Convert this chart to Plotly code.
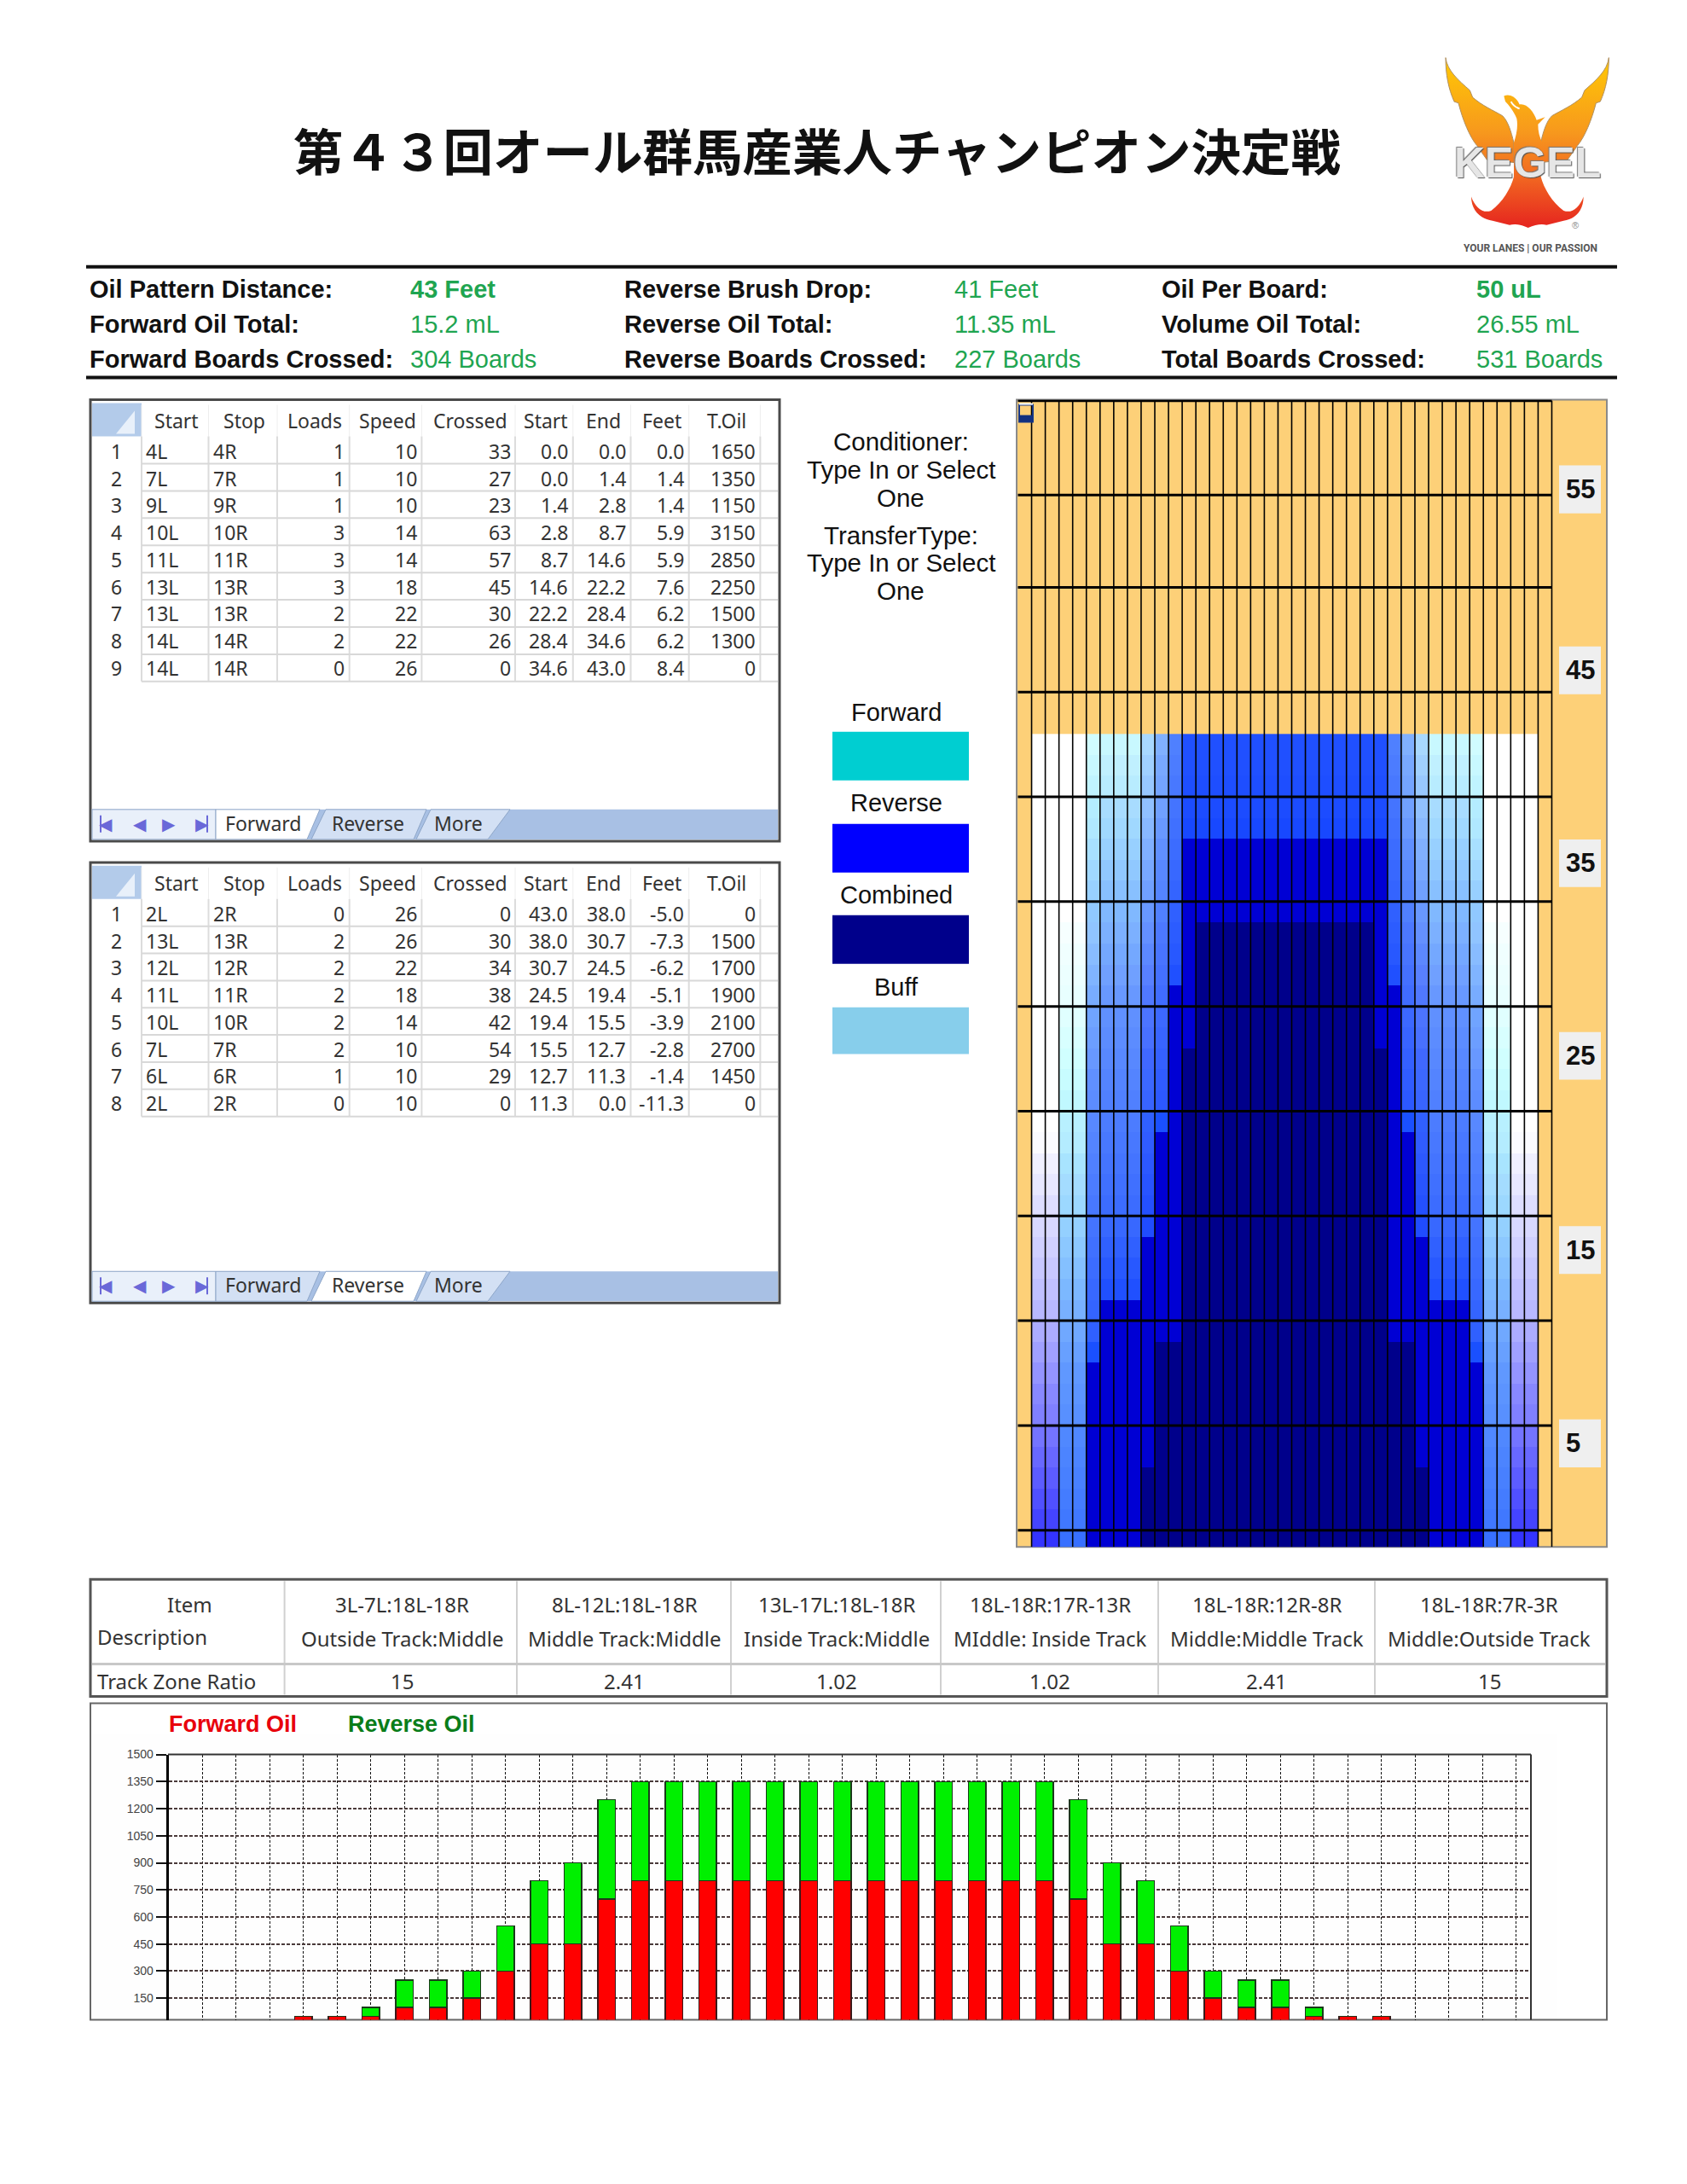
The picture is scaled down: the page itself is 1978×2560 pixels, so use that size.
import base64
import numpy as np
import plotly.graph_objects as go

W, H = 1978, 2560

# ---------- data ----------
TITLE = "第４３回オール群馬産業人チャンピオン決定戦"
summary_rows = [
    [("Oil Pattern Distance:", "43 Feet", True), ("Reverse Brush Drop:", "41 Feet", False), ("Oil Per Board:", "50 uL", True)],
    [("Forward Oil Total:", "15.2 mL", False), ("Reverse Oil Total:", "11.35 mL", False), ("Volume Oil Total:", "26.55 mL", False)],
    [("Forward Boards Crossed:", "304 Boards", False), ("Reverse Boards Crossed:", "227 Boards", False), ("Total Boards Crossed:", "531 Boards", False)],
]
table_headers = ["Start", "Stop", "Loads", "Speed", "Crossed", "Start", "End", "Feet", "T.Oil"]
fw_start = ["4L", "7L", "9L", "10L", "11L", "13L", "13L", "14L", "14L"]
fw_stop = ["4R", "7R", "9R", "10R", "11R", "13R", "13R", "14R", "14R"]
fw_loads = [1, 1, 1, 3, 3, 3, 2, 2, 0]
fw_speed = [10, 10, 10, 14, 14, 18, 22, 22, 26]
fw_crossed = [33, 27, 23, 63, 57, 45, 30, 26, 0]
fw_from = ["0.0", "0.0", "1.4", "2.8", "8.7", "14.6", "22.2", "28.4", "34.6"]
fw_end = ["0.0", "1.4", "2.8", "8.7", "14.6", "22.2", "28.4", "34.6", "43.0"]
fw_feet = ["0.0", "1.4", "1.4", "5.9", "5.9", "7.6", "6.2", "6.2", "8.4"]
fw_oil = [1650, 1350, 1150, 3150, 2850, 2250, 1500, 1300, 0]

rv_start = ["2L", "13L", "12L", "11L", "10L", "7L", "6L", "2L"]
rv_stop = ["2R", "13R", "12R", "11R", "10R", "7R", "6R", "2R"]
rv_loads = [0, 2, 2, 2, 2, 2, 1, 0]
rv_speed = [26, 26, 22, 18, 14, 10, 10, 10]
rv_crossed = [0, 30, 34, 38, 42, 54, 29, 0]
rv_from = ["43.0", "38.0", "30.7", "24.5", "19.4", "15.5", "12.7", "11.3"]
rv_end = ["38.0", "30.7", "24.5", "19.4", "15.5", "12.7", "11.3", "0.0"]
rv_feet = ["-5.0", "-7.3", "-6.2", "-5.1", "-3.9", "-2.8", "-1.4", "-11.3"]
rv_oil = [0, 1500, 1700, 1900, 2100, 2700, 1450, 0]

track_head = ["3L-7L:18L-18R", "8L-12L:18L-18R", "13L-17L:18L-18R", "18L-18R:17R-13R", "18L-18R:12R-8R", "18L-18R:7R-3R"]
track_desc = ["Outside Track:Middle", "Middle Track:Middle", "Inside Track:Middle", "MIddle: Inside Track", "Middle:Middle Track", "Middle:Outside Track"]
track_ratio = ["15", "2.41", "1.02", "1.02", "2.41", "15"]

boards = list(range(4, 37))
forward_oil = [50, 50, 50, 100, 100, 150, 300, 450, 450, 700, 800, 800, 800, 800, 800, 800, 800, 800, 800, 800, 800, 800, 800,
               700, 450, 450, 300, 150, 100, 100, 50, 50, 50]
reverse_oil = [0, 0, 50, 150, 150, 150, 250, 350, 450, 550, 550, 550, 550, 550, 550, 550, 550, 550, 550, 550, 550, 550, 550,
               550, 450, 350, 250, 150, 150, 150, 50, 0, 0]
bar_ticks = [150, 300, 450, 600, 750, 900, 1050, 1200, 1350, 1500]

# Oil-graph colours, top row of the pattern first, for the left half of the lane (mirrored on the right)
c2_3 = ["ffffff"] * 19 + ["fbfbff", "f0f0ff", "e8e8ff", "dedeff", "d8d8ff", "d0d0ff", "c8c8ff", "c0c0ff", "b8b8ff", "acacff", "a0a0ff",
                          "9494ff", "8888ff", "8080ff", "7474ff", "6868ff", "5c5cff", "5050ff", "4444ff", "3434ff"]
c4_5 = ["ffffff"] * 9 + ["f6ffff", "f0ffff", "ecffff", "e8ffff", "e0ffff", "d8ffff", "d0ffff", "c8fcff", "c0f8ff", "b8f0ff", "b4ecff",
                         "a8e4ff", "a4dcff", "9cd8ff", "94d0ff", "8cc8ff", "84c0ff", "7cb8ff", "78b0ff", "70a8ff", "68a0ff",
                         "6098ff", "5c94ff", "5890ff", "5088ff", "4c84ff", "4880ff", "447cff", "4078ff", "3870ff"]
c6 = ["d0fcff", "c8f8ff", "c0f4ff", "b4ecff", "b0e8ff", "a8e0ff", "a0d8ff", "98d0ff", "90c8ff", "90c4ff", "88bcff", "80b4ff", "78acff",
      "70a4ff", "6c9eff", "6898ff", "6090ff", "5c8cff", "5888ff", "5484ff", "5080ff", "4c7cff", "4878ff", "4474ff", "4070ff", "3c6cff",
      "3868ff", "3464ff", "3060ff", "1a50ff"] + ["0000d4"] * 9
c7_9 = ["c8f8ff", "c0f0ff", "b8ecff", "a8dcff", "a0d8ff", "98d0ff", "90c8ff", "88c0ff", "80b8ff", "7cb0ff", "74a8ff", "70a0ff", "6898ff",
        "6090ff", "5c8cff", "5888ff", "5484ff", "5080ff", "4c7cff", "4878ff", "4474ff", "4070ff", "3c6cff", "3868ff", "3060ff", "2858ff",
        "2050ff"] + ["0000d4"] * 12
c10 = ["a8d8ff", "a0d0ff", "98c8ff", "90c0ff", "88b8ff", "80b0ff", "78a8ff", "70a0ff", "6898ff", "6490ff", "5c88ff", "5880ff", "5078ff",
       "4c74ff", "4870ff", "4068ff", "3c68ff", "3864ff", "3060ff", "305cff", "2c58ff", "2854ff", "2450ff", "204cff"] + ["0000d4"] * 11 + ["00008b"] * 4
c11 = ["80b0ff", "78a8ff", "74a4ff", "70a0ff", "6898ff", "6090ff", "5888ff", "5484ff", "5080ff", "4c78ff", "4874ff", "4470ff", "406cff",
       "3c68ff", "3864ff", "3460ff", "305cff", "2c58ff", "1a50ff"] + ["0000d4"] * 10 + ["00008b"] * 10
c12 = ["4f80ff", "4c7cff", "4878ff", "4474ff", "4070ff", "3c6cff", "3868ff", "3464ff", "3060ff", "2c5cff", "2858ff", "2050ff"] + ["0000d4"] * 17 + ["00008b"] * 10
c13 = ["2050ff", "2050ff", "1e4eff", "1c4cff", "1848ff"] + ["0000d4"] * 10 + ["00008b"] * 24
c14_20 = ["2050ff", "2050ff", "1e4eff", "1c4cff", "1848ff"] + ["0000d4"] * 4 + ["00008b"] * 30
oil_columns = [c2_3, c2_3, c4_5, c4_5, c6, c7_9, c7_9, c7_9, c10, c11, c12, c13] + [c14_20] * 7
board_numbers = list(range(2, 39))
row_levels = [38.5 - i for i in range(39)]
grid_cols = [i + 0.5 for i in range(1, 40)]
grid_rows = [1, 6, 11, 16, 21, 26, 31, 36, 41, 46, 50.4, 54.9]
lane_labels = ["5", "15", "25", "35", "45", "55"]
legend_names = ["Forward", "Reverse", "Combined", "Buff"]
legend_colors = ["#00ced1", "#0000ff", "#00008b", "#87ceeb"]

# ---------- helpers ----------
SANS = "Liberation Sans"
UI = "Noto Sans"
annots, shapes = [], []
WARP_Y = [0, 470, 1000, 1530, 1812, 1850, 2055, 2560]
WARP_D = [7, 6, 4, 3, 1, 1, 0, 0]
fx = lambda x: x / W
fy = lambda y: float(1 - (y - np.interp(y, WARP_Y, WARP_D)) / H)


def txt(x, y, s, size, color="#111", bold=False, anchor="left", font=SANS, **kw):
    f = dict(size=size, color=color, family=font, weight=700 if bold else 400)
    f.update(kw)
    annots.append(dict(x=fx(x), y=fy(y), xref="paper", yref="paper", text=s, showarrow=False, xanchor=anchor,
                       yanchor="middle", font=f, borderpad=0, borderwidth=0))


def rect(x0, y0, x1, y1, fill=None, line=None, lw=1, layer="above"):
    shapes.append(dict(type="rect", xref="paper", yref="paper", x0=fx(x0), x1=fx(x1), y0=fy(y0), y1=fy(y1),
                       fillcolor=fill or "rgba(0,0,0,0)", line=dict(color=line or "rgba(0,0,0,0)", width=lw if line else 0), layer=layer))


def hline(x0, x1, y, color="#000", lw=3):
    shapes.append(dict(type="line", xref="paper", yref="paper", x0=fx(x0), x1=fx(x1), y0=fy(y), y1=fy(y), line=dict(color=color, width=lw)))


def vline(x, y0, y1, color="#000", lw=3):
    shapes.append(dict(type="line", xref="paper", yref="paper", x0=fx(x), x1=fx(x), y0=fy(y0), y1=fy(y1), line=dict(color=color, width=lw)))


def poly(pts, fill, line=None):
    path = "M" + " L".join(f"{fx(x):.5f},{fy(y):.5f}" for x, y in pts) + " Z"
    shapes.append(dict(type="path", xref="paper", yref="paper", path=path, fillcolor=fill,
                       line=dict(color=line or "rgba(0,0,0,0)", width=1 if line else 0), layer="above"))


fig = go.Figure()

# ---------- title & logo ----------
txt(958, 174, TITLE, 58.5, "#111", True, "center", "Noto Sans CJK JP")
wing = "M105,50 C110,95 150,130 190,165 L200,190 C235,220 270,235 305,255 C325,275 335,310 345,350 L345,420 L250,410 L215,360 C190,330 165,270 150,210 L135,205 C115,160 105,110 105,50 Z"
body = ("M310,185 C330,175 355,190 365,215 C390,210 415,240 425,270 L455,260 L430,285 C430,310 435,330 445,350 L440,470 "
        "C450,510 480,560 520,590 C550,600 575,580 590,540 C590,590 560,620 520,625 L460,640 C440,635 420,640 395,650 "
        "C370,640 350,635 330,640 L270,625 C230,620 195,590 195,540 C210,580 235,600 265,590 C305,560 335,510 345,470 L345,350 "
        "C355,320 360,290 355,265 C345,240 325,215 315,205 Z")
svg = f'''<svg xmlns="http://www.w3.org/2000/svg" width="750" height="780" viewBox="0 0 750 780">
<defs><linearGradient id="g" gradientUnits="userSpaceOnUse" x1="0" y1="50" x2="0" y2="640">
<stop offset="0" stop-color="#ffc905"/><stop offset="0.45" stop-color="#f7981d"/><stop offset="0.7" stop-color="#f26a21"/><stop offset="1" stop-color="#e6281f"/></linearGradient></defs>
<g fill="url(#g)" stroke="#b09060" stroke-width="3"><path d="{wing}"/><path d="{wing}" transform="translate(784,0) scale(-1,1)"/><path d="{body}" stroke="none"/></g>
<path d="M335,205 C340,215 350,225 365,230" fill="none" stroke="#fff" stroke-width="6"/>
</svg>'''
logo_uri = "data:image/svg+xml;base64," + base64.b64encode(svg.encode()).decode()
images = [dict(source=logo_uri, xref="paper", yref="paper", x=fx(1660), y=fy(50), sizex=250 / W, sizey=260 / H,
               xanchor="left", yanchor="top", sizing="stretch", layer="above")]
txt(1791, 190, "KEGEL", 50, "#e6e6e6", True, "center", SANS, shadow="1px 1px 1px #555, -1px -1px 1px #777")
txt(1847, 263, "®", 11, "#888", False, "center")
txt(1794, 290, "YOUR LANES | OUR PASSION", 12, "#555", True, "center", "Roboto")

# ---------- summary block ----------
hline(101, 1896, 312, "#111", 4)
hline(101, 1896, 442, "#111", 4)
label_x = [105, 732, 1362]
value_x = [481, 1119, 1731]
row_y = [338, 379, 420]
for ry, row in zip(row_y, summary_rows):
    for lx, vx, (lab, val, strong) in zip(label_x, value_x, row):
        txt(lx, ry, lab, 29, "#111", True)
        txt(vx, ry, val, 29, "#1fa551", strong)

# ---------- setup tables ----------
col_edges = [166, 244.5, 325, 409.7, 494.4, 604, 671.8, 739.5, 807.7, 891.4]
table_sets = [
    (0, 1, [fw_start, fw_stop, fw_loads, fw_speed, fw_crossed, fw_from, fw_end, fw_feet, fw_oil]),
    (542, 2, [rv_start, rv_stop, rv_loads, rv_speed, rv_crossed, rv_from, rv_end, rv_feet, rv_oil]),
]
for off, active, cols in table_sets:
    n = len(cols[0])
    rect(106, 468 + off, 914, 985 + off, "#ffffff", "#4a4a4a", 3, "below")
    rect(108, 472 + off, 166, 511 + off, "#b3cbea", None, 0, "below")
    poly([(158, 481 + off), (158, 508 + off), (136, 508 + off)], "#e8f0fa")
    bottom = 511 + off + 31.9 * n
    for e in col_edges:
        vline(e, 474 + off, 511 + off, "#eeeeee", 1)
        vline(e, 511 + off, bottom, "#dcdcdc", 2)
    for i in range(n):
        hline(166, 912, 511 + off + 31.9 * (i + 1), "#d8d8d8", 2)
        cy = 528.2 + off + 31.76 * i
        txt(136, cy, str(i + 1), 23, "#333", False, "center", UI)
        for j, col in enumerate(cols):
            val = str(col[i])
            if j < 2:
                txt(col_edges[j] + 5, cy, val, 23, "#333", False, "left", UI)
            else:
                txt(col_edges[j + 1] - 5.5, cy, val, 23, "#333", False, "right", UI)
    for j, head in enumerate(table_headers):
        txt((col_edges[j] + col_edges[j + 1]) / 2 + 2, 492.5 + off, head, 23, "#333", False, "center", UI)
    # tab strip
    rect(108, 948 + off, 912, 983 + off, "#a8c0e4", None, 0)
    rect(108, 948 + off, 253, 983 + off, "#e9f0fa", "#8ea6c8", 1)
    fwd_fill = "#ffffff" if active == 1 else "#d3e0f4"
    rev_fill = "#ffffff" if active == 2 else "#d3e0f4"
    poly([(488, 983 + off), (505, 948 + off), (598, 948 + off), (572, 983 + off)], "#d3e0f4", "#8ea6c8")
    poly([(365, 983 + off), (382, 948 + off), (500, 948 + off), (485, 983 + off)], rev_fill, "#8ea6c8")
    poly([(253, 948 + off), (253, 983 + off), (360, 983 + off), (375, 948 + off)], fwd_fill, "#8ea6c8")
    for gx, g in zip([124, 163.5, 198, 236.6], ["◀", "◀", "▶", "▶"]):
        txt(gx, 965 + off, g, 20, "#6a68d8", False, "center", "DejaVu Sans")
    vline(118, 955 + off, 975 + off, "#6a68d8", 2)
    vline(243, 955 + off, 975 + off, "#6a68d8", 2)
    for tx, tab in zip([309, 431, 537], ["Forward", "Reverse", "More"]):
        txt(tx, 964 + off, tab, 23, "#333", False, "center", UI)

# ---------- middle notes and legend ----------
for y, s in zip([517, 550, 583, 627, 659, 692],
                ["Conditioner:", "Type In or Select", "One", "TransferType:", "Type In or Select", "One"]):
    txt(1056, y, s, 29.5, "#111", False, "center")
for name, color, ty, y0, y1 in zip(legend_names, legend_colors, [834, 940, 1048, 1156], [857, 965, 1072, 1180], [914, 1022, 1129, 1235]):
    txt(1051, ty, name, 29, "#111", False, "center")
    rect(976, y0, 1136, y1, color, None, 0)

# ---------- lane oil graph ----------
rect(1192, 468, 1884, 1812, "#fdd078", "#8a8a8a", 2, "below")
palette = sorted({c for col in oil_columns for c in col})
index = {c: i for i, c in enumerate(palette)}
half = [[index[c] + 0.5 for c in col] for col in oil_columns]
full = half + half[-2::-1]
z_rows = [[full[j][i] for j in range(len(full))] for i in range(39)]
n_pal = len(palette)
scale = []
for i, c in enumerate(palette):
    scale += [[i / n_pal, "#" + c], [(i + 1) / n_pal, "#" + c]]
fig.add_trace(go.Heatmap(x=board_numbers, y=row_levels, z=z_rows, zmin=0, zmax=n_pal, colorscale=scale, showscale=False,
                         hoverinfo="skip", xaxis="x", yaxis="y"))
vx_pts, vy_pts, hx_pts, hy_pts = [], [], [], []
for g in grid_cols:
    vx_pts += [g, g, None]
    vy_pts += [0.2, grid_rows[-1], None]
for g in grid_rows:
    hx_pts += [0.5, grid_cols[-1], None]
    hy_pts += [g, g, None]
fig.add_trace(go.Scatter(x=vx_pts, y=vy_pts, mode="lines", line=dict(color="#000", width=1.6), hoverinfo="skip", xaxis="x", yaxis="y"))
fig.add_trace(go.Scatter(x=hx_pts, y=hy_pts, mode="lines", line=dict(color="#000", width=3), hoverinfo="skip", xaxis="x", yaxis="y"))
for lab, cy in zip(lane_labels, [1691, 1465, 1237, 1011, 785, 573]):
    rect(1828, cy - 28, 1877, cy + 28, "#efefef", None, 0)
    txt(1836, cy, lab, 31, "#111", True)
# selection marker at the top-left corner of the graph
rect(1195, 474, 1211, 494, None, "#1a3a8a", 2)
rect(1195, 486, 1211, 494, "#12307e", None, 0)
hline(1195, 1211, 473, "#ffffff", 2)

# ---------- track zone table ----------
rect(106, 1850, 1884, 1987, "#ffffff", "#555555", 3, "below")
for x in [333.6, 606, 857, 1103, 1358, 1612]:
    vline(x, 1852, 1985, "#d0d0d0", 2)
hline(108, 1882, 1949, "#c8c8c8", 3)
txt(222.6, 1879, "Item", 24, "#333", False, "center", UI)
txt(114, 1917, "Description", 24, "#333", False, "left", UI)
txt(114, 1969, "Track Zone Ratio", 24, "#333", False, "left", UI)
centers = [471, 732, 981, 1231, 1485, 1746]
for cx, h, d, r in zip(centers, track_head, track_desc, track_ratio):
    txt(cx, 1879, h, 24, "#333", False, "center", UI)
    txt(cx, 1919, d, 24, "#333", False, "center", UI)
    txt(cx, 1969, r, 24, "#333", False, "center", UI)

# ---------- board oil bars ----------
rect(106, 1995, 1884, 2367, "#ffffff", "#666666", 2, "below")
rect(108, 2032, 1825, 2365, "#fefefe", None, 0, "below")
txt(198, 2019, "Forward Oil", 27, "#e8000c", True)
txt(408, 2019, "Reverse Oil", 27, "#0a7d1a", True)
fig.add_trace(go.Bar(x=boards, y=forward_oil, marker=dict(color="#ff0000", line=dict(color="#3a1a1a", width=1.5)), width=0.52,
                     name="Forward Oil", xaxis="x2", yaxis="y2", hoverinfo="skip"))
fig.add_trace(go.Bar(x=boards, y=reverse_oil, marker=dict(color="#00f000", line=dict(color="#1a3a1a", width=1.5)), width=0.52,
                     name="Reverse Oil", xaxis="x2", yaxis="y2", hoverinfo="skip"))
hline(197, 1795, 2055, "#333", 2)
vline(1795, 2055, 2367, "#333", 2)

fig.update_layout(
    width=W, height=H, autosize=False, margin=dict(l=0, r=0, t=0, b=0), paper_bgcolor="#ffffff", plot_bgcolor="rgba(0,0,0,0)",
    showlegend=False, barmode="stack", shapes=shapes, annotations=annots, images=images,
    xaxis=dict(domain=[fx(1192), fx(1884)], range=[0.407, 43.52], showgrid=False, zeroline=False, showticklabels=False, ticks="", fixedrange=True),
    yaxis=dict(domain=[fy(1812), fy(468)], range=[0.2, 54.95], showgrid=False, zeroline=False, showticklabels=False, ticks="", fixedrange=True),
    xaxis2=dict(domain=[fx(197.6), fx(1795)], range=[0, 40.44], tickvals=list(range(1, 41)), showticklabels=False, ticks="",
                showgrid=True, gridcolor="#111", griddash="3px,2px", gridwidth=1, zeroline=False, anchor="y2", fixedrange=True),
    yaxis2=dict(domain=[fy(2367), fy(2055)], range=[30, 1500], tickvals=bar_ticks, ticks="outside", ticklen=12, tickcolor="#111", tickwidth=2,
                showgrid=True, gridcolor="#4a3a3a", griddash="4px,2px", gridwidth=2, zeroline=False, showline=True, linecolor="#000", linewidth=3,
                anchor="x2", tickfont=dict(family=SANS, size=14, color="#444"), fixedrange=True),
)
fig.write_html("out.html", config=dict(displayModeBar=False), post_script="document.body.style.margin='0';")
